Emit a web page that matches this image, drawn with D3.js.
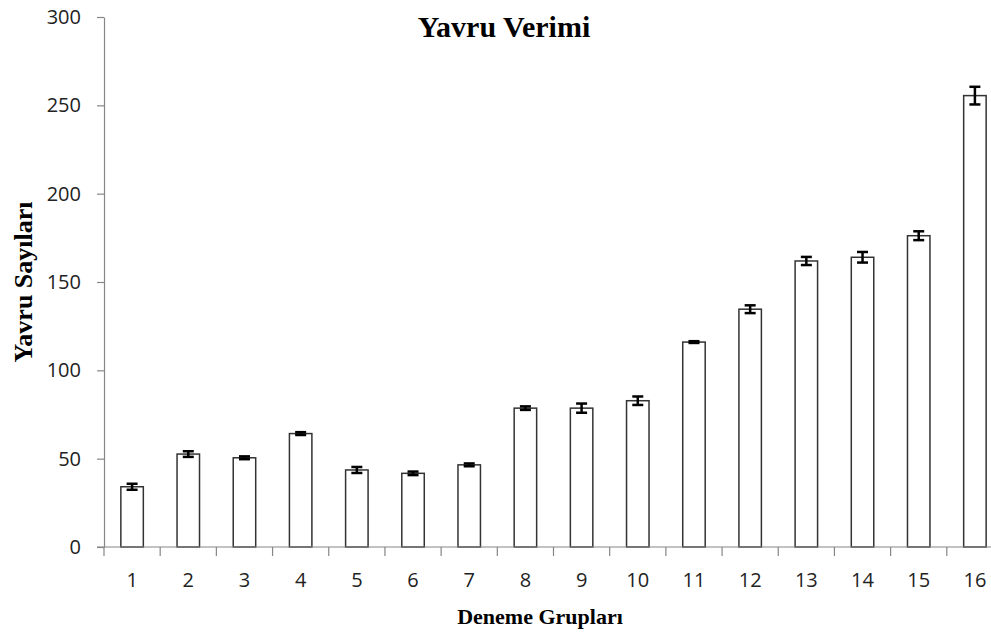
<!DOCTYPE html>
<html>
<head>
<meta charset="utf-8">
<script src="https://cdn.jsdelivr.net/npm/d3@7"></script>
<style>
  html, body { margin: 0; padding: 0; background: #fff; }
  svg { display: block; }
  .tick text { font-family: "Open Sans", "DejaVu Sans", sans-serif; fill: #222; }
  .ttl { font-family: "Liberation Serif", "Times New Roman", serif; font-weight: bold; fill: #000; }
</style>
</head>
<body>
<svg id="chart" width="991" height="635"></svg>
<script>
// Offspring yield per trial group (mean ± error)
const groups = ["1","2","3","4","5","6","7","8","9","10","11","12","13","14","15","16"];
const yieldMeans = [34.1, 52.6, 50.5, 64.2, 43.6, 41.7, 46.5, 78.6, 78.6, 82.8, 116.0, 134.6, 161.9, 164.0, 176.2, 255.5];
const yieldErrors = [1.7, 1.6, 0.8, 0.8, 1.7, 1.0, 0.8, 1.0, 2.6, 2.4, 0.5, 2.2, 2.3, 3.0, 2.5, 5.0];
const yTicks = [0, 50, 100, 150, 200, 250, 300];

const svg = d3.select("#chart");
const plotLeft = 104, plotRight = 1003, plotTop = 17, plotBottom = 547;

const x = d3.scaleBand().domain(groups).range([plotLeft, plotRight]).paddingInner(0.6).paddingOuter(0.3);
const y = d3.scaleLinear().domain([0, 300]).range([plotBottom, plotTop]);

// bars
svg.append("g").selectAll("rect").data(groups).join("rect")
  .attr("x", (d) => x(d))
  .attr("y", (d, i) => y(yieldMeans[i]))
  .attr("width", x.bandwidth())
  .attr("height", (d, i) => y(0) - y(yieldMeans[i]))
  .attr("fill", "#fff")
  .attr("stroke", "#333")
  .attr("stroke-width", 1.5);

// error bars
const eb = svg.append("g").attr("stroke", "#000").attr("stroke-width", 2.5);
groups.forEach((g, i) => {
  const cx = x(g) + x.bandwidth() / 2;
  const hi = y(yieldMeans[i] + yieldErrors[i]);
  const lo = y(yieldMeans[i] - yieldErrors[i]);
  eb.append("line").attr("x1", cx).attr("x2", cx).attr("y1", hi).attr("y2", lo);
  eb.append("line").attr("x1", cx - 5.5).attr("x2", cx + 5.5).attr("y1", hi).attr("y2", hi);
  eb.append("line").attr("x1", cx - 5.5).attr("x2", cx + 5.5).attr("y1", lo).attr("y2", lo);
});

// y axis
const yAxis = svg.append("g").attr("transform", `translate(${plotLeft},0)`)
  .call(d3.axisLeft(y).tickValues(yTicks).tickSize(7).tickPadding(16).tickSizeOuter(0));
yAxis.select(".domain").attr("stroke", "#868686").attr("stroke-width", 1.2);
yAxis.selectAll(".tick line").attr("stroke", "#868686").attr("stroke-width", 1.2);
yAxis.selectAll(".tick text").style("font-size", "20px");

// x axis with ticks at category boundaries
const xAxis = svg.append("g").attr("transform", `translate(0,${plotBottom})`)
  .call(d3.axisBottom(x).tickSize(0).tickPadding(26));
xAxis.select(".domain").remove();
xAxis.selectAll(".tick text").style("font-size", "20px");
xAxis.append("line").attr("x1", plotLeft - 7).attr("x2", plotRight).attr("y1", 0).attr("y2", 0)
  .attr("stroke", "#868686").attr("stroke-width", 1.2);
const step = x.step();
const bounds = d3.range(groups.length + 1).map((k) => x(groups[0]) - (x.paddingInner() * step) / 2 + k * step);
xAxis.selectAll(".bound").data(bounds).join("line").attr("class", "bound")
  .attr("x1", (d) => d).attr("x2", (d) => d).attr("y1", 0).attr("y2", 9)
  .attr("stroke", "#868686").attr("stroke-width", 1.2);

// titles
svg.append("text").attr("class", "ttl").attr("x", 504).attr("y", 37)
  .attr("text-anchor", "middle").style("font-size", "30px").text("Yavru Verimi");
svg.append("text").attr("class", "ttl").attr("x", 540).attr("y", 624)
  .attr("text-anchor", "middle").style("font-size", "22px").text("Deneme Grupları");
svg.append("text").attr("class", "ttl")
  .attr("transform", "translate(32,282) rotate(-90)")
  .attr("text-anchor", "middle").style("font-size", "26px").text("Yavru Sayıları");
</script>
</body>
</html>
